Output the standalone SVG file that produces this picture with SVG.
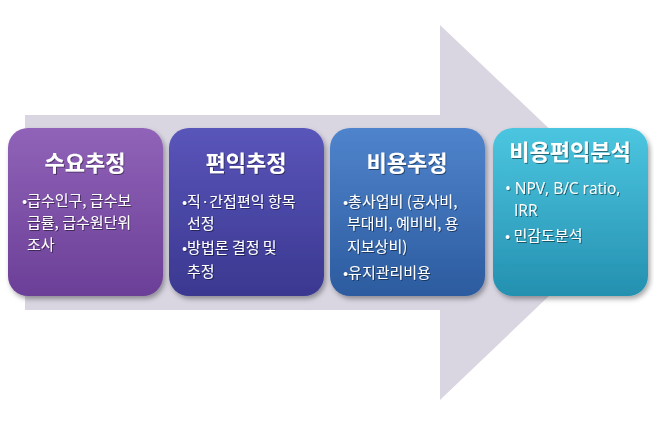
<svg xmlns="http://www.w3.org/2000/svg" width="654" height="426" viewBox="0 0 654 426">
<defs>
<linearGradient id="g1" x1="0" y1="0" x2="0" y2="1"><stop offset="0" stop-color="#9063b8"/><stop offset="1" stop-color="#6b3f97"/></linearGradient>
<linearGradient id="g2" x1="0" y1="0" x2="0" y2="1"><stop offset="0" stop-color="#5a55ba"/><stop offset="1" stop-color="#3a3890"/></linearGradient>
<linearGradient id="g3" x1="0" y1="0" x2="0" y2="1"><stop offset="0" stop-color="#4f84cc"/><stop offset="1" stop-color="#2c5b9f"/></linearGradient>
<linearGradient id="g4" x1="0" y1="0" x2="0" y2="1"><stop offset="0" stop-color="#4cc6e0"/><stop offset="1" stop-color="#2490b0"/></linearGradient>
<filter id="sh" x="-10%" y="-10%" width="125%" height="125%"><feDropShadow dx="2" dy="3" stdDeviation="2.5" flood-color="#000" flood-opacity="0.35"/></filter>
<filter id="ts" x="-5%" y="-20%" width="115%" height="150%"><feDropShadow dx="1" dy="1" stdDeviation="0.6" flood-color="#000" flood-opacity="0.45"/></filter>
</defs>
<style>
.box{stroke:none;filter:url(#sh)}
.title{font-family:"Noto Sans CJK KR","Noto Sans",sans-serif;font-size:22px;font-weight:bold;fill:#fff;text-anchor:middle;filter:url(#ts)}
.txt{font-family:"Noto Sans CJK KR","Noto Sans",sans-serif;font-size:15px;fill:#fff;filter:url(#ts)}
.lat{font-family:"Open Sans","Noto Sans CJK KR",sans-serif;font-size:15.5px;fill:#fff;filter:url(#ts)}
</style>
<rect width="654" height="426" fill="#fff"/>
<g id="arrow">
<polygon points="25,115 440,115 440,25 637,212 440,400 440,310 25,310" fill="#d9d6e2"/>
</g>
<g id="connectors"/>
<g id="node1">
<rect class="box" x="8" y="128" width="155" height="168" rx="20" fill="url(#g1)"/>
<text class="title" x="85" y="171">수요추정</text>
<text class="txt" x="22" y="206">•급수인구, 급수보</text>
<text class="txt" x="27" y="228">급률, 급수원단위</text>
<text class="txt" x="27" y="250">조사</text>
</g>
<g id="node2">
<rect class="box" x="169" y="128" width="155" height="168" rx="20" fill="url(#g2)"/>
<text class="title" x="246" y="171">편익추정</text>
<text class="txt" x="182" y="207">•직·간접편익 항목</text>
<text class="txt" x="187" y="229">선정</text>
<text class="txt" x="182" y="253">•방법론 결정 및</text>
<text class="txt" x="187" y="277">추정</text>
</g>
<g id="node3">
<rect class="box" x="330" y="128" width="155" height="168" rx="20" fill="url(#g3)"/>
<text class="title" x="407" y="171">비용추정</text>
<text class="txt" x="343" y="207">•총사업비 (공사비,</text>
<text class="txt" x="347" y="229">부대비, 예비비, 용</text>
<text class="txt" x="347" y="252">지보상비)</text>
<text class="txt" x="343" y="278">•유지관리비용</text>
</g>
<g id="node4">
<rect class="box" x="493" y="128" width="155" height="168" rx="20" fill="url(#g4)"/>
<text class="title" x="570" y="160">비용편익분석</text>
<text class="lat" x="505" y="194">• NPV, B/C ratio,</text>
<text class="lat" x="514" y="216">IRR</text>
<text class="txt" x="505" y="241">• 민감도분석</text>
</g>
</svg>
